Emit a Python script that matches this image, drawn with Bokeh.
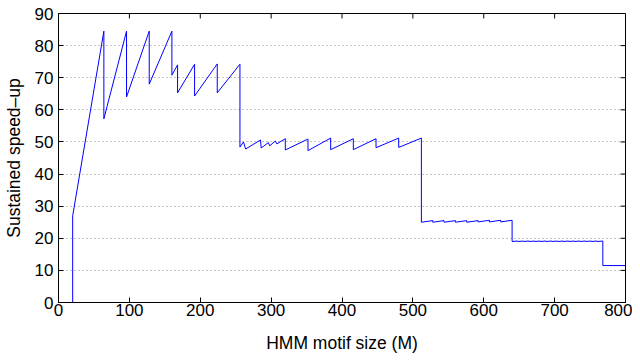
import math
from bokeh.plotting import figure
from bokeh.models import Range1d, FixedTicker
from bokeh.embed import file_html
from bokeh.resources import INLINE

# Motif size (M) vertices and sustained speed-up, by segment
seg1_x = [0, 20, 20, 64, 64, 96, 96, 128, 128, 160, 160, 168, 168, 192, 192, 224, 224, 256]
seg1_y = [0, 0, 27.0, 84.5, 57.2, 84.5, 64.0, 84.5, 68.0, 84.5, 70.8, 74.0, 65.3, 74.2, 64.3, 74.3, 65.3, 74.2]

seg2_x = [256, 261, 264, 285, 286, 296, 298, 306, 308, 320, 320, 352, 352, 384, 384, 416, 416, 448, 448, 480, 480, 512]
seg2_y = [48.4, 50.0, 47.8, 50.6, 48.1, 49.8, 48.8, 50.3, 49.4, 51.0, 47.5, 50.9, 47.3, 51.2, 47.6, 51.0, 47.6, 51.0, 48.2, 51.2, 48.3, 51.2]

seg3_x = [512, 528, 528, 544, 544, 560, 560, 576, 576, 592, 592, 608, 608, 624, 624, 640]
seg3_y = [25.0, 25.5, 25.0, 25.5, 25.0, 25.5, 25.0, 25.5, 25.0, 25.5, 25.1, 25.6, 25.1, 25.6, 25.1, 25.6]

seg4_x = [640, 648, 648, 656, 656, 664, 664, 672, 672, 680, 680, 688, 688, 696, 696, 704,
          704, 712, 712, 720, 720, 728, 728, 736, 736, 744, 744, 752, 752, 760, 760, 768]
seg4_y = [19.0, 19.15, 19.0, 19.15, 19.0, 19.15, 19.0, 19.15, 19.0, 19.15, 19.0, 19.15, 19.0, 19.15, 19.0, 19.15,
          19.0, 19.15, 19.0, 19.15, 19.0, 19.15, 19.0, 19.15, 19.0, 19.15, 19.0, 19.15, 19.0, 19.15, 19.0, 19.15]

seg5_x = [768, 800]
seg5_y = [11.5, 11.5]

motif_size = seg1_x + seg2_x + seg3_x + seg4_x + seg5_x
speedup = seg1_y + seg2_y + seg3_y + seg4_y + seg5_y

x_ticks = [0, 100, 200, 300, 400, 500, 600, 700, 800]
y_ticks = [0, 10, 20, 30, 40, 50, 60, 70, 80, 90]
X_MIN, X_MAX = 0, 800
Y_MIN, Y_MAX = 0, 90

FONT = "Liberation Sans"

p = figure(frame_width=567, frame_height=289,
           x_range=Range1d(X_MIN, X_MAX), y_range=Range1d(Y_MIN, Y_MAX),
           output_backend="svg", toolbar_location=None,
           min_border_left=58, min_border_right=7, min_border_top=13, min_border_bottom=48,
           x_axis_label="HMM motif size (M)", y_axis_label="Sustained speed\u2013up")

p.line(motif_size, speedup, line_color="#0000ff", line_width=1)

# mirrored inward ticks on the top and right edges of the box
p.ray(x=x_ticks, y=[Y_MAX] * len(x_ticks), length=5, length_units="screen",
      angle=-math.pi / 2, line_color="black", line_width=1)
p.ray(x=[X_MAX] * len(y_ticks), y=y_ticks, length=5, length_units="screen",
      angle=math.pi, line_color="black", line_width=1)

p.outline_line_color = "black"
p.outline_line_width = 1
p.outline_line_alpha = 1

p.xgrid.grid_line_color = None
p.ygrid.grid_line_color = "#8c8c8c"
p.ygrid.grid_line_dash = "1 3"
p.ygrid.grid_line_width = 1

p.xaxis.ticker = FixedTicker(ticks=x_ticks)
p.yaxis.ticker = FixedTicker(ticks=y_ticks)

for ax in (p.xaxis[0], p.yaxis[0]):
    ax.axis_line_color = "black"
    ax.major_tick_line_color = "black"
    ax.major_tick_in = 5
    ax.major_tick_out = 0
    ax.minor_tick_line_color = None
    ax.major_label_text_font = FONT
    ax.major_label_text_font_size = "17px"
    ax.major_label_text_color = "black"
    ax.axis_label_text_font = FONT
    ax.axis_label_text_font_size = "17.5px"
    ax.axis_label_text_font_style = "normal"
    ax.axis_label_text_color = "black"

p.xaxis.major_label_standoff = 1
p.xaxis.axis_label_standoff = 14
p.yaxis.major_label_standoff = 5
p.yaxis.axis_label_standoff = 8

open("out.html", "w").write(file_html(p, INLINE))
